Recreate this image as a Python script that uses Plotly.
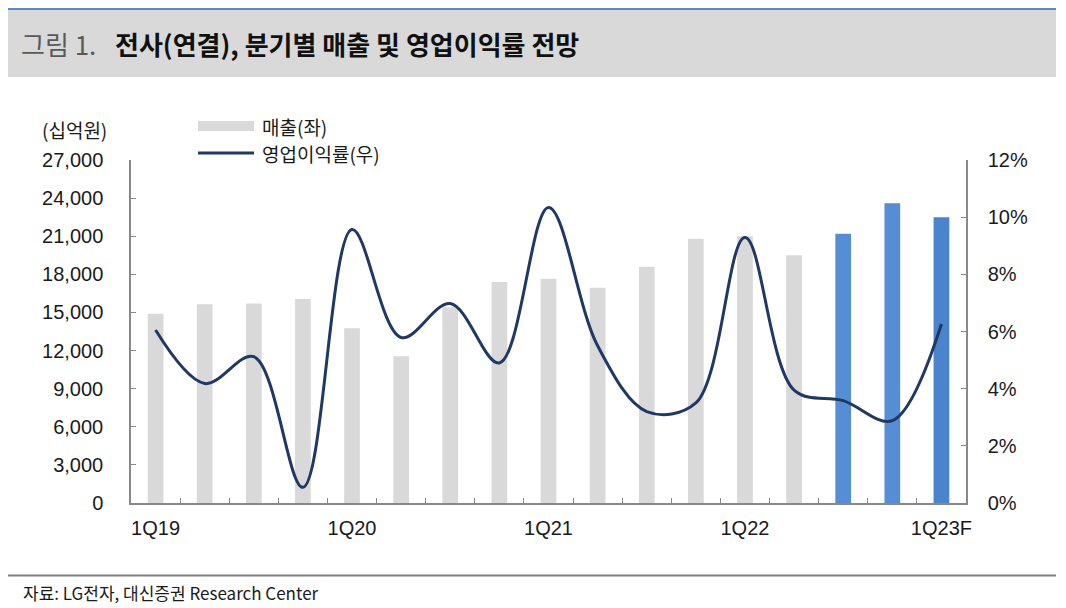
import plotly.graph_objects as go

categories = ["1Q19", "2Q19", "3Q19", "4Q19", "1Q20", "2Q20", "3Q20", "4Q20",
              "1Q21", "2Q21", "3Q21", "4Q21", "1Q22", "2Q22", "3Q22", "4Q22F", "1Q23F"]
tick_labels = ["1Q19", "", "", "", "1Q20", "", "", "", "1Q21", "", "", "", "1Q22", "", "", "", "1Q23F"]
sales = [14900, 15650, 15700, 16050, 13750, 11550, 15400, 17400,
         17650, 16950, 18600, 20800, 21000, 19500, 21200, 23600, 22500]
op_margin = [0.0605, 0.0418, 0.0512, 0.0055, 0.0957, 0.0579, 0.0698, 0.0490,
             0.1034, 0.0550, 0.0320, 0.0350, 0.0929, 0.0395, 0.0358, 0.0288, 0.0626]
bar_colors = ["#d9d9d9"] * 14 + ["#558ed5", "#558ed5", "#4a84cc"]

# page offset (browser body margin)
OFF = 8
W, H = 1066 - OFF, 608 - OFF
L, R, T, B = 131, 966, 160, 503   # plot area in reference-pixel coordinates


def px(x):
    return (x - L) / (R - L)


def py(y):
    return (B - y) / (B - T)


FONT = "Liberation Sans, Noto Sans CJK KR, sans-serif"
KFONT = "Noto Sans CJK KR, sans-serif"
TXT = "#1a1a1a"

fig = go.Figure()
fig.add_trace(go.Bar(x=categories, y=sales, marker=dict(color=bar_colors, line=dict(width=0)),
                     width=0.32, name="매출(좌)", yaxis="y"))
fig.add_trace(go.Scatter(x=categories, y=op_margin, mode="lines", name="영업이익률(우)",
                         line=dict(color="#1f3864", width=3, shape="spline", smoothing=1.0),
                         yaxis="y2"))

shapes = [
    # title band
    dict(type="rect", xref="paper", yref="paper", x0=px(5), x1=px(1056), y0=py(77), y1=py(10),
         fillcolor="#d9d9d9", line=dict(width=0), layer="below"),
    dict(type="rect", xref="paper", yref="paper", x0=px(5), x1=px(1056), y0=py(10), y1=py(8),
         fillcolor="#5b87c5", line=dict(width=0)),
    # bottom rule
    dict(type="line", xref="paper", yref="paper", x0=px(6), x1=px(1056), y0=py(575.5), y1=py(575.5),
         line=dict(color="#808080", width=2)),
    # legend symbols
    dict(type="rect", xref="paper", yref="paper", x0=px(198), x1=px(254), y0=py(131), y1=py(121),
         fillcolor="#d9d9d9", line=dict(width=0)),
    dict(type="line", xref="paper", yref="paper", x0=px(198), x1=px(254), y0=py(153), y1=py(153),
         line=dict(color="#1f3864", width=3)),
]

annotations = [
    dict(text="그림 1.", x=px(19), y=py(43), xref="paper", yref="paper", xanchor="left",
         yanchor="middle", showarrow=False, font=dict(family=KFONT, size=26, color="#595959")),
    dict(text="<b>전사(연결), 분기별 매출 및 영업이익률 전망</b>", x=px(113), y=py(43), xref="paper",
         yref="paper", xanchor="left", yanchor="middle", showarrow=False,
         font=dict(family=KFONT, size=26, color="#111111")),
    dict(text="(십억원)", x=px(40), y=py(129), xref="paper", yref="paper", xanchor="left",
         yanchor="middle", showarrow=False, font=dict(family=KFONT, size=19, color=TXT)),
    dict(text="매출(좌)", x=px(260), y=py(126), xref="paper", yref="paper", xanchor="left",
         yanchor="middle", showarrow=False, font=dict(family=KFONT, size=19, color=TXT)),
    dict(text="영업이익률(우)", x=px(260), y=py(153), xref="paper", yref="paper", xanchor="left",
         yanchor="middle", showarrow=False, font=dict(family=KFONT, size=19, color=TXT)),
    dict(text="자료: LG전자, 대신증권 Research Center", x=px(21), y=py(592), xref="paper", yref="paper",
         xanchor="left", yanchor="middle", showarrow=False,
         font=dict(family=KFONT, size=17, color=TXT)),
]

fig.update_layout(
    width=W, height=H,
    margin=dict(l=L - OFF, r=W - (R - OFF), t=T - OFF, b=H - (B - OFF), pad=0),
    paper_bgcolor="white", plot_bgcolor="white",
    showlegend=False,
    font=dict(family=FONT, size=20, color=TXT),
    shapes=shapes, annotations=annotations,
    xaxis=dict(type="category", tickvals=categories, ticktext=tick_labels, tickson="boundaries",
               ticks="inside", ticklen=5, tickcolor="#888888", showline=True, linecolor="#888888",
               linewidth=1.5, showgrid=False, ticklabelstandoff=6, tickangle=0,
               tickfont=dict(family=FONT, size=20, color=TXT)),
    yaxis=dict(range=[0, 27000], dtick=3000, tickformat=",", ticks="inside", ticklen=5,
               tickcolor="#888888", showline=True, linecolor="#888888", linewidth=1.5,
               showgrid=False, zeroline=False, ticklabelstandoff=22,
               tickfont=dict(family=FONT, size=20, color=TXT)),
    yaxis2=dict(range=[0, 0.12], dtick=0.02, tickformat=".0%", overlaying="y", side="right",
                ticks="inside", ticklen=5, tickcolor="#888888", showline=True, linecolor="#888888",
                linewidth=1.5, showgrid=False, zeroline=False, ticklabelstandoff=16,
                tickfont=dict(family=FONT, size=20, color=TXT)),
)

fig.write_html("out.html")
